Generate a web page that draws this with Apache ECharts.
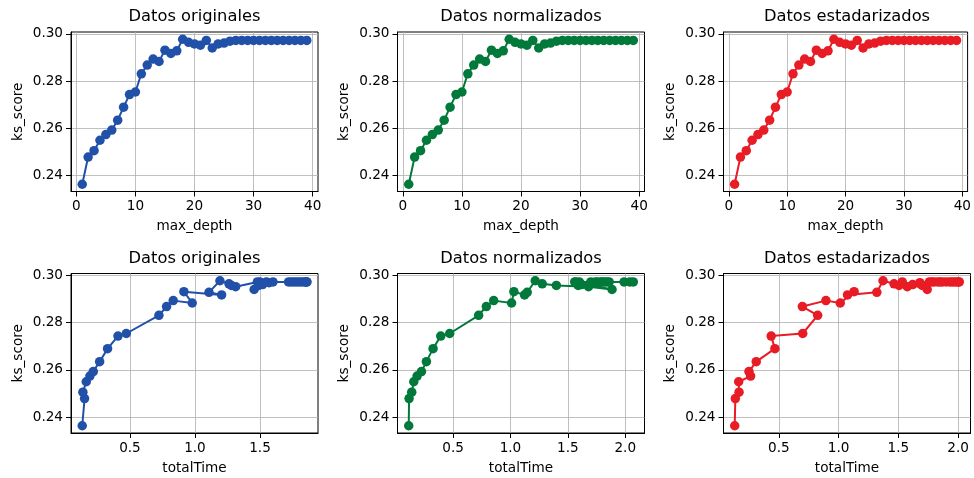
<!DOCTYPE html>
<html>
<head>
<meta charset="utf-8">
<script src="https://cdn.jsdelivr.net/npm/echarts@6/dist/echarts.min.js"></script>
<style>
  html, body { margin: 0; padding: 0; background: #fff; }
  #chart { width: 974px; height: 478px; }
</style>
</head>
<body>
<div id="chart"></div>
<script>
// max_depth 1..39
const depths = [1,2,3,4,5,6,7,8,9,10,11,12,13,14,15,16,17,18,19,20,
  21,22,23,24,25,26,27,28,29,30,31,32,33,34,35,36,37,38,39];

// ks_score per depth (same for the three datasets)
const ksScore = [0.2364,0.2479,0.2506,0.2550,0.2574,0.2593,0.2635,0.2690,0.2743,0.2754,
  0.2831,0.2868,0.2893,0.2883,0.2931,0.2917,0.2928,0.2977,0.2964,0.2957,
  0.2952,0.2972,0.2940,0.2957,0.2961,0.2969,0.2972,0.2972,0.2972,0.2972,
  0.2972,0.2972,0.2972,0.2972,0.2972,0.2972,0.2972,0.2972,0.2972];

// totalTime per depth
const timeOriginal = [0.133,0.151,0.138,0.164,0.192,0.218,0.267,0.328,0.408,0.472,
  0.723,0.782,0.833,0.979,0.915,1.205,1.108,1.192,1.262,1.280,
  1.313,1.480,1.455,1.490,1.520,1.570,1.500,1.550,1.600,1.720,
  1.740,1.760,1.780,1.800,1.820,1.840,1.860,1.850,1.860];
const timeNormalized = [0.114,0.117,0.140,0.158,0.187,0.225,0.268,0.326,0.393,0.471,
  0.723,0.790,0.854,1.010,1.030,1.123,1.146,1.216,1.277,1.400,
  1.680,1.570,1.885,1.590,1.620,1.720,1.560,1.600,1.740,1.700,
  1.760,1.790,1.820,1.800,1.840,1.860,1.990,2.040,2.070];
const timeStandardized = [0.131,0.136,0.167,0.164,0.264,0.250,0.311,0.467,0.436,0.700,
  0.825,0.697,0.894,1.014,1.130,1.075,1.320,1.372,1.464,1.506,
  1.575,1.533,1.742,1.700,1.620,1.680,1.760,1.780,1.800,1.830,
  1.850,1.870,1.900,1.930,1.950,1.970,1.990,2.005,2.010];

const titles = ['Datos originales', 'Datos normalizados', 'Datos estadarizados'];
const colors = ['#2150a8', '#00793a', '#e81c24'];

const depthTicks = [0, 10, 20, 30, 40];
const timeTicksOrig = [0.5, 1.0, 1.5];
const timeTicks = [0.5, 1.0, 1.5, 2.0];
const scoreTicks = [0.24, 0.26, 0.28, 0.30];

let chart = echarts.init(document.getElementById('chart'));

const FONT = 'DejaVu Sans';
const colLeft = [71, 397.5, 723.5];
const rowTop = [32, 273.5];
const gridW = 247, gridH = 159.5;

// matplotlib style 5% margins
let padRange = (arr) => {
  let lo = Math.min(...arr), hi = Math.max(...arr);
  let m = (hi - lo) * 0.05;
  return [lo - m, hi + m];
};

let grids = [], xAxes = [], yAxes = [], series = [], titleList = [];
const yr = padRange(ksScore);

for (let r = 0; r < 2; r++) {
  for (let c = 0; c < 3; c++) {
    let i = r * 3 + c;
    let xs, ticks, fmt, xname;
    if (r === 0) {
      xs = depths; ticks = depthTicks; fmt = (v) => String(Math.round(v)); xname = 'max_depth';
    } else {
      xs = [timeOriginal, timeNormalized, timeStandardized][c];
      ticks = c === 0 ? timeTicksOrig : timeTicks;
      fmt = (v) => v.toFixed(1); xname = 'totalTime';
    }
    let xr = padRange(xs);
    grids.push({
      left: colLeft[c], top: rowTop[r], width: gridW, height: gridH,
      show: true, borderColor: '#000', borderWidth: 1, containLabel: false
    });
    titleList.push({
      text: titles[c], left: colLeft[c] + gridW / 2, top: rowTop[r] - 23,
      textAlign: 'center', padding: 0,
      textStyle: { fontFamily: FONT, fontSize: 16.3, fontWeight: 'normal', color: '#000' }
    });
    xAxes.push({
      type: 'value', gridIndex: i, min: xr[0], max: xr[1],
      name: xname, nameLocation: 'middle', nameGap: 28,
      nameTextStyle: { fontFamily: FONT, fontSize: 13.6, color: '#000' },
      axisLine: { show: true, onZero: false, lineStyle: { color: '#000', width: 1 } },
      axisTick: { show: true, length: 5, customValues: ticks, lineStyle: { color: '#000' } },
      axisLabel: { customValues: ticks, formatter: fmt, margin: 8,
        fontFamily: FONT, fontSize: 13.6, color: '#000' },
      splitLine: { show: true, lineStyle: { color: '#b0b0b0', width: 0.8 } }
    });
    yAxes.push({
      type: 'value', gridIndex: i, min: yr[0], max: yr[1],
      name: 'ks_score', nameLocation: 'middle', nameGap: 46,
      nameTextStyle: { fontFamily: FONT, fontSize: 13.6, color: '#000' },
      axisLine: { show: true, onZero: false, lineStyle: { color: '#000', width: 1 } },
      axisTick: { show: true, length: 5, customValues: scoreTicks, lineStyle: { color: '#000' } },
      axisLabel: { customValues: scoreTicks, formatter: (v) => v.toFixed(2), margin: 8,
        fontFamily: FONT, fontSize: 13.6, color: '#000' },
      splitLine: { show: true, lineStyle: { color: '#b0b0b0', width: 0.8 } }
    });
    series.push({
      type: 'line', xAxisIndex: i, yAxisIndex: i,
      data: xs.map((x, k) => [x, ksScore[k]]),
      symbol: 'circle', symbolSize: 9.5, showSymbol: true,
      lineStyle: { color: colors[c], width: 2 },
      itemStyle: { color: colors[c] },
      emphasis: { disabled: true }
    });
  }
}

chart.setOption({
  animation: false,
  title: titleList,
  grid: grids,
  xAxis: xAxes,
  yAxis: yAxes,
  series: series
});
</script>
</body>
</html>
